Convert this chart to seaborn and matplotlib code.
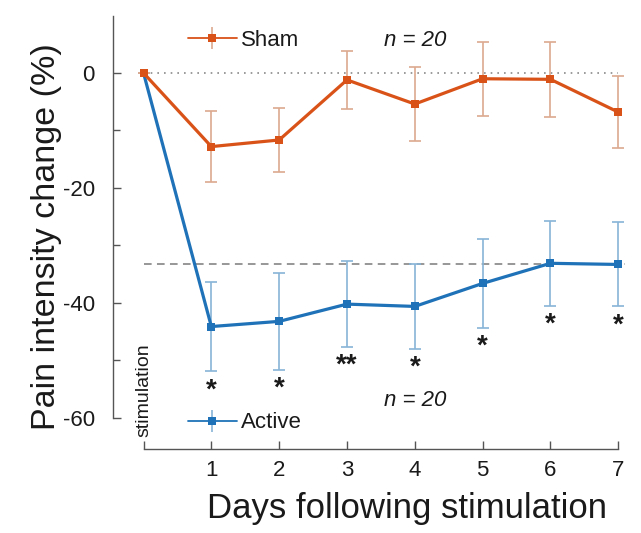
import numpy as np
import pandas as pd
import matplotlib
matplotlib.use("Agg")
import matplotlib.pyplot as plt
import seaborn as sns

days = [0, 1, 2, 3, 4, 5, 6, 7]
sham_mean = [0.0, -12.8, -11.65, -1.2, -5.4, -1.0, -1.1, -6.8]
sham_err = [0.0, 6.2, 5.5, 5.1, 6.4, 6.4, 6.5, 6.3]
active_mean = [0.0, -44.1, -43.2, -40.2, -40.6, -36.6, -33.1, -33.3]
active_err = [0.0, 7.8, 8.4, 7.5, 7.4, 7.7, 7.4, 7.3]
star_labels = ["", "*", "*", "**", "*", "*", "*", "*"]
x_tick_labels = ["", "1", "2", "3", "4", "5", "6", "7"]
y_ticks = [0, -20, -40, -60]
ref_level = -33.2

sham_color = "#D95319"
active_color = "#1F72B8"
sham_err_color = "#DBA98F"
active_err_color = "#86B4D8"

sns.set_theme(style="white")
plt.rcParams['font.family'] = ['Liberation Sans', 'DejaVu Sans']
plt.rcParams['axes.unicode_minus'] = False

df = pd.DataFrame({
    "day": days * 2,
    "change": sham_mean + active_mean,
    "group": ["Sham"] * len(days) + ["Active"] * len(days),
})

fig = plt.figure(figsize=(6.41, 5.33), dpi=100)
ax = fig.add_axes([0.1763, 0.1576, 0.7988, 0.8133])

# reference lines
ax.hlines(0, days[0], days[-1], colors="#8a8a8a", linestyles=(0, (1, 3)), linewidth=1.2, zorder=1)
ax.axhline(ref_level, xmin=(0 + 0.45) / 7.55, xmax=1, color="#7a7a7a", linestyle=(0, (5, 3.5)),
           linewidth=1.1, zorder=1)

# error bars
ax.errorbar(days, active_mean, yerr=active_err, fmt="none", ecolor=active_err_color,
            elinewidth=1.2, capsize=4, capthick=1.2, zorder=2)
ax.errorbar(days, sham_mean, yerr=sham_err, fmt="none", ecolor=sham_err_color,
            elinewidth=1.2, capsize=4, capthick=1.2, zorder=2)

sns.lineplot(data=df, x="day", y="change", hue="group", hue_order=["Active", "Sham"],
             palette={"Sham": sham_color, "Active": active_color},
             marker="s", markersize=6, markeredgewidth=0, linewidth=2.3,
             ax=ax, legend=False, zorder=3)

# legend handles (empty errorbar containers)
h_s = ax.errorbar([np.nan], [np.nan], yerr=[np.nan], fmt="-s", color=sham_color,
                  ecolor=sham_err_color, markersize=6, markeredgewidth=0, linewidth=1.3,
                  elinewidth=1.2, capsize=4, capthick=1.2)
h_a = ax.errorbar([np.nan], [np.nan], yerr=[np.nan], fmt="-s", color=active_color,
                  ecolor=active_err_color, markersize=6, markeredgewidth=0, linewidth=1.3,
                  elinewidth=1.2, capsize=4, capthick=1.2)

# stars
for d, m, e, s in zip(days, active_mean, active_err, star_labels):
    if s:
        ax.text(d, m - e - 1.0, s, ha="center", va="top", fontsize=20, fontweight="bold",
                color="#1a1a1a")

ax.text(4.0, 5.7, "n = 20", ha="center", va="center", fontsize=16, style="italic", color="#1a1a1a")
ax.text(4.0, -56.9, "n = 20", ha="center", va="center", fontsize=16, style="italic", color="#1a1a1a")
ax.text(0.0, -55.2, "stimulation", rotation=90, ha="center", va="center", fontsize=14, color="#1a1a1a")

leg1 = ax.legend([h_s], ["Sham"], loc="center left", bbox_to_anchor=(0.146, 0.9435),
                 frameon=False, fontsize=16, handlelength=2.2, handletextpad=0.2,
                 borderpad=0, borderaxespad=0)
for t in leg1.get_texts():
    t.set_color("#1a1a1a")
ax.add_artist(leg1)
leg2 = ax.legend([h_a], ["Active"], loc="center left", bbox_to_anchor=(0.146, 0.06),
                 frameon=False, fontsize=16, handlelength=2.2, handletextpad=0.2,
                 borderpad=0, borderaxespad=0)
for t in leg2.get_texts():
    t.set_color("#1a1a1a")

ax.set_xlim(-0.45, 7.1)
ax.set_ylim(-65.4, 10)
ax.set_xticks(days)
ax.set_xticklabels(x_tick_labels)
ax.set_yticks(y_ticks)
ax.set_yticks([-10, -30, -50], minor=True)
ax.tick_params(axis="both", which="both", direction="in", colors="#555555", labelcolor="#1a1a1a",
               labelsize=16, width=1.0, left=True, bottom=True)
ax.tick_params(axis="both", which="major", direction="in", length=6)
ax.tick_params(axis="y", which="minor", direction="in", length=5)
ax.tick_params(axis="x", which="major", pad=8)
ax.tick_params(axis="y", which="major", pad=13)

for side in ["top", "right"]:
    ax.spines[side].set_visible(False)
ax.spines["left"].set_bounds(-60, 10)
ax.spines["bottom"].set_bounds(0, 7)
ax.spines["bottom"].set_position(("data", -65.4))
for side in ["left", "bottom"]:
    ax.spines[side].set_color("#555555")
    ax.spines[side].set_linewidth(1.0)

ax.set_xlabel("Days following stimulation", fontsize=25, color="#1a1a1a")
ax.set_ylabel("Pain intensity change (%)", fontsize=24.5, color="#1a1a1a")
ax.xaxis.set_label_coords(0.574, -0.100)
ax.yaxis.set_label_coords(-0.10, 0.489)
ax.xaxis.label.set_va("top")

fig.savefig("out.png", dpi=100)
